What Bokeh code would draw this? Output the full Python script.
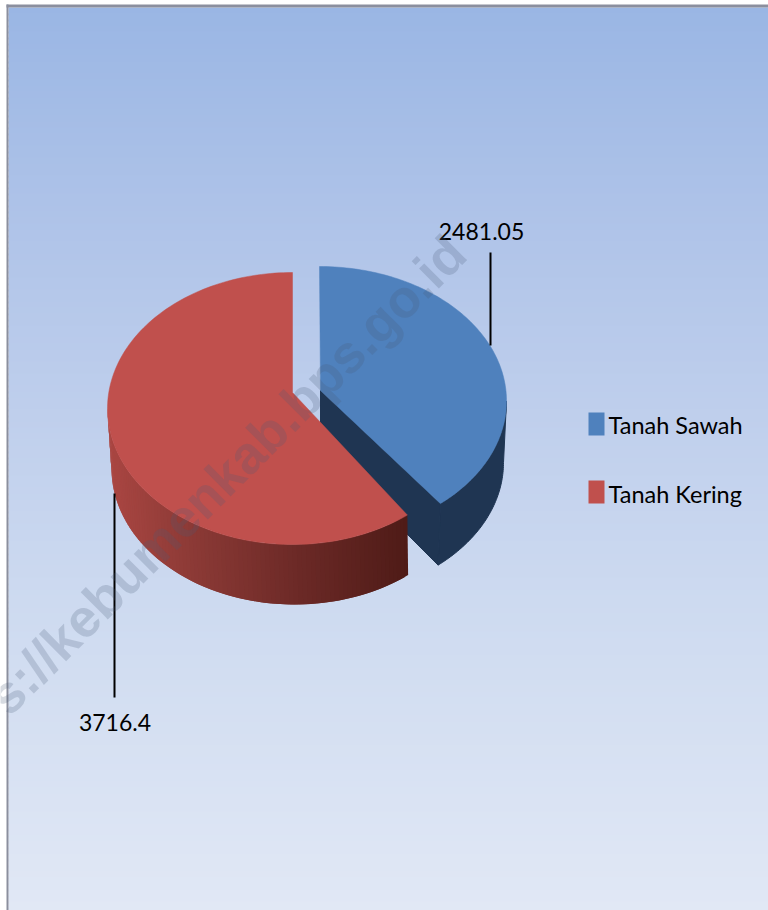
import numpy as np
from bokeh.plotting import figure
from bokeh.models import Range1d
from bokeh.core.properties import value
from bokeh.embed import file_html
from bokeh.resources import INLINE

# ---- data ----
categories = ["Tanah Sawah", "Tanah Kering"]
values = [2481.05, 3716.4]
value_labels = ["2481.05", "3716.4"]
slice_colors = ["#4F81BD", "#C0504D"]
watermark = "s://kebumenkab.bps.go.id"

# ---- styling / geometry of the tilted 3D view ----
FONT = value("Lato")
BLUE_SIDE = "#1F3552"
BG_STOPS_Y = [7, 200, 400, 600, 910]
BG_STOPS = [(154, 182, 228), (173, 194, 232), (190, 206, 236), (205, 218, 240), (225, 232, 245)]
WALL_STOPS_X = [107, 190, 300, 407]
WALL_STOPS = [(170, 70, 66), (140, 58, 54), (107, 41, 38), (78, 27, 23)]

W, H = 768, 910
p = figure(width=W, height=H, output_backend="svg", toolbar_location=None,
           x_range=Range1d(0, W), y_range=Range1d(H, 0), x_axis_type=None, y_axis_type=None,
           min_border=0, outline_line_color=None, background_fill_color="white",
           border_fill_color="white", styles={"position": "absolute", "left": "0", "top": "0"})
p.grid.visible = False

# background
edges = np.arange(7, H + 7, 6)
mids = (edges[:-1] + edges[1:]) / 2
bg = ["#%02x%02x%02x" % tuple(int(round(np.interp(m, BG_STOPS_Y, [c[i] for c in BG_STOPS]))) for i in range(3)) for m in mids]
p.quad(left=8, right=W, top=edges[:-1], bottom=edges[1:] + 2, fill_color=bg, line_color=None)
p.quad(left=[6, 6], right=[8, W], top=[4, 4], bottom=[H, 7], fill_color="#8b8f9e", line_color=None)

def pt(cx, cy, rx, ry, t):
    t = np.radians(t)
    return cx + rx * np.sin(t), cy - ry * np.cos(t)

total = sum(values)
blue_sweep = values[0] / total * 360 - 4.4
red_sweep = values[1] / total * 360 + 2.5

# blue slice
bt = np.linspace(0, blue_sweep, 120)
bx, by = pt(319, 400.5, 187, 134.5, bt)
wt = np.linspace(90, blue_sweep, 60)
wx0, wy0 = pt(319, 400.5, 187, 134.5, wt)
wx1, wy1 = pt(318, 462, 185, 134.5, wt)
p.patch(np.r_[wx0, wx1[::-1]], np.r_[wy0, wy1[::-1]], fill_color=BLUE_SIDE, line_color=BLUE_SIDE)
p.patch([320, bx[-1], wx1[-1], 320], [390, by[-1], wy1[-1], 447], fill_color=BLUE_SIDE, line_color=BLUE_SIDE)
p.patch(np.r_[320, bx], np.r_[390, by], fill_color=slice_colors[0], line_color=slice_colors[0], line_width=0.5)

# red slice: wall as gradient strips (each overlaps the next to hide seams)
rstart = 360 - red_sweep
rt = np.linspace(rstart, 270, 91)
tx, ty = pt(292, 408, 185, 136, rt)
lx, ly = pt(294, 468, 183, 136, rt)
xs, ys, cols = [], [], []
for i in range(len(rt) - 1):
    j = min(i + 2, len(rt) - 1)
    xs.append([tx[i], tx[j], lx[j], lx[i]])
    ys.append([ty[i], ty[j], ly[j], ly[i]])
    xm = (tx[i] + tx[i + 1]) / 2
    cols.append("#%02x%02x%02x" % tuple(int(round(np.interp(xm, WALL_STOPS_X, [c[k] for c in WALL_STOPS]))) for k in range(3)))
p.patches(xs, ys, fill_color=cols, line_color=None)
rtop = np.linspace(rstart, 360, 160)
rx, ry = pt(292, 408, 185, 136, rtop)
p.patch(np.r_[292, rx], np.r_[392, ry], fill_color=slice_colors[1], line_color=slice_colors[1], line_width=0.5)

# leader lines and value labels
p.line([490, 490], [252, 345], line_color="black", line_width=2)
p.line([114, 114], [493, 697], line_color="black", line_width=2)
p.text([481, 114.5], [231, 722], text=value_labels, text_font=FONT, text_font_size="23px",
       text_color="black", text_align="center", text_baseline="middle")

# legend
p.quad(left=[588, 588], right=[604, 604], top=[412, 480], bottom=[435, 503],
       fill_color=slice_colors, line_color=None)
p.text([608, 608], [424, 493], text=categories, text_font=FONT, text_font_size="23.5px",
       text_color="black", text_align="left", text_baseline="middle")

# watermark
p.text([456], [244], text=[watermark], text_font=value("Liberation Sans"), text_font_style="bold",
       text_font_size="53px", text_color="#4a5a78", text_alpha=0.22, angle=[45], angle_units="deg",
       text_align="right", text_baseline="alphabetic")

open("out.html", "w").write(file_html(p, INLINE))
